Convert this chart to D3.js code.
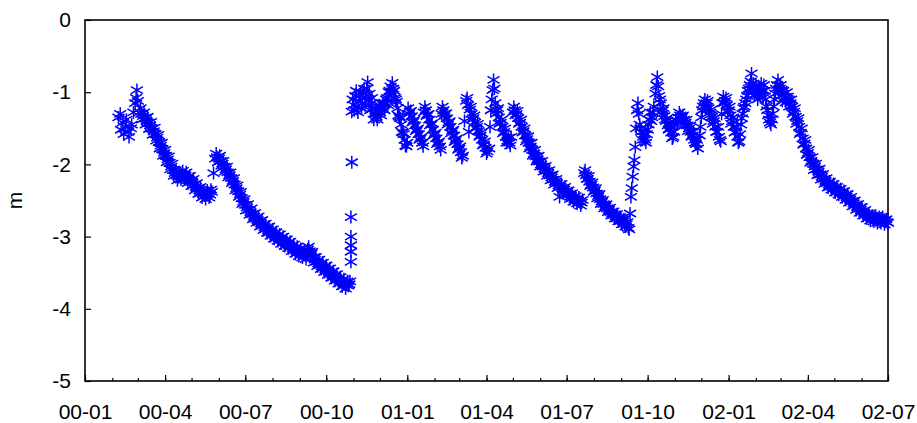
<!DOCTYPE html>
<html>
<head>
<meta charset="utf-8">
<script src="https://cdn.jsdelivr.net/npm/d3@7"></script>
<style>
  body { margin: 0; background: #fff; }
  text { font-family: "Liberation Sans", Arial, sans-serif; }
</style>
</head>
<body>
<svg id="chart"></svg>
<script>
// water level readings, [days since 2000-01-01, level in m]
const obs2000spring = [[38,-1.35],[40,-1.30],[41,-1.52],[43,-1.42],[44,-1.58],[46,-1.48],[47,-1.38],[49,-1.55],[50,-1.62],[52,-1.50],[53,-1.45],[55,-1.28],[57,-1.15],[58,-1.08],[59,-0.97],[60,-1.12],[62,-1.28],[64,-1.30],[66,-1.33],[68,-1.36],[70,-1.40],[72,-1.42],[74,-1.46],[76,-1.50],[78,-1.54],[80,-1.58],[82,-1.63],[84,-1.69],[86,-1.74],[88,-1.79],[90,-1.84],[92,-1.88],[94,-1.93],[96,-1.98],[98,-2.03],[100,-2.08],[102,-2.12],[104,-2.15],[106,-2.17],[108,-2.16],[110,-2.14],[112,-2.15],[114,-2.16],[116,-2.19],[118,-2.21],[120,-2.23],[122,-2.25],[124,-2.28],[126,-2.31],[128,-2.33],[130,-2.36],[132,-2.39],[134,-2.41],[136,-2.43],[138,-2.42],[140,-2.40],[142,-2.42],[144,-2.38],[146,-2.12]]
const obs2000springB = [[63,-1.22],[65,-1.38],[67,-1.28],[69,-1.45],[71,-1.34],[73,-1.51],[75,-1.41],[77,-1.59],[79,-1.49],[81,-1.67],[83,-1.59],[85,-1.78],[87,-1.70],[89,-1.88],[91,-1.80],[93,-1.97],[95,-1.89],[97,-2.07],[99,-1.99],[101,-2.16],[103,-2.08],[105,-2.22],[107,-2.11],[109,-2.21],[111,-2.09],[113,-2.21],[115,-2.11],[117,-2.26],[119,-2.16],[121,-2.30],[123,-2.20],[125,-2.36],[127,-2.26],[129,-2.41],[131,-2.31],[133,-2.46],[135,-2.36],[137,-2.48],[139,-2.36],[141,-2.46],[143,-2.35]]

const obs2000summer = [[148,-1.92],[150,-1.90],[152,-1.92],[154,-1.95],[156,-1.99],[158,-2.03],[160,-2.07],[162,-2.11],[164,-2.15],[166,-2.19],[168,-2.23],[170,-2.28],[172,-2.33],[174,-2.37],[176,-2.42],[178,-2.47],[180,-2.52],[182,-2.56],[184,-2.60],[186,-2.63],[188,-2.66],[190,-2.69],[192,-2.72],[194,-2.75],[196,-2.77],[198,-2.80],[200,-2.82],[202,-2.84],[204,-2.87],[206,-2.89],[208,-2.91],[210,-2.93],[212,-2.95],[214,-2.97],[216,-2.99],[218,-3.00],[220,-3.02],[222,-3.04],[224,-3.05],[226,-3.07],[228,-3.09],[230,-3.10],[232,-3.12],[234,-3.14],[236,-3.16],[238,-3.18],[240,-3.19],[242,-3.21],[244,-3.22],[246,-3.23],[248,-3.25],[250,-3.26],[252,-3.22],[253,-3.18],[255,-3.20],[257,-3.24],[259,-3.29],[261,-3.32],[263,-3.35],[265,-3.37],[267,-3.39],[269,-3.41],[271,-3.43],[273,-3.45],[275,-3.47],[277,-3.49],[279,-3.51],[281,-3.53],[283,-3.55],[285,-3.57],[287,-3.59],[289,-3.61],[291,-3.62],[293,-3.64],[295,-3.66],[297,-3.67],[299,-3.68],[300,-3.66],[301,-3.62]]
const obs2000summerB = [[149,-1.85],[151,-1.97],[153,-1.88],[155,-2.02],[157,-1.95],[159,-2.10],[161,-2.03],[163,-2.18],[165,-2.11],[167,-2.26],[169,-2.19],[171,-2.36],[173,-2.29],[175,-2.45],[177,-2.38],[179,-2.55],[181,-2.48],[183,-2.64],[185,-2.55],[187,-2.70],[189,-2.61],[191,-2.76],[193,-2.67],[195,-2.81],[197,-2.72],[199,-2.86],[201,-2.77],[203,-2.91],[205,-2.82],[207,-2.95],[209,-2.86],[211,-2.99],[213,-2.90],[215,-3.03],[217,-2.94],[219,-3.06],[221,-2.97],[223,-3.10],[225,-3.00],[227,-3.13],[229,-3.04],[231,-3.16],[233,-3.07],[235,-3.20],[237,-3.11],[239,-3.24],[241,-3.14],[243,-3.27],[245,-3.17],[247,-3.29],[249,-3.20],[251,-3.31],[254,-3.14],[256,-3.27],[258,-3.21],[260,-3.36],[262,-3.28],[264,-3.41],[266,-3.32],[268,-3.45],[270,-3.36],[272,-3.49],[274,-3.40],[276,-3.53],[278,-3.44],[280,-3.57],[282,-3.48],[284,-3.61],[286,-3.52],[288,-3.65],[290,-3.56],[292,-3.69],[294,-3.59],[296,-3.72],[298,-3.62]]

const obs2000recharge = [[302,-3.35],[302,-3.21],[302,-3.12],[302,-3.00],[302,-2.73],[303,-1.97],[303,-1.27]]

const obs2001winter = [[304,-1.10],[305,-1.18],[307,-1.05],[309,-1.20],[311,-1.12],[313,-1.00],[315,-1.15],[317,-0.95],[319,-1.08],[321,-0.86],[323,-1.02],[325,-1.15],[327,-1.22],[329,-1.30],[331,-1.34],[333,-1.25],[335,-1.28],[337,-1.22],[339,-1.18],[341,-1.15],[343,-1.08],[345,-1.00],[347,-0.92],[349,-0.87],[351,-0.98],[353,-1.10],[355,-1.22],[357,-1.34],[359,-1.45],[361,-1.56],[363,-1.66],[365,-1.75],[367,-1.22],[369,-1.27],[371,-1.33],[373,-1.40],[375,-1.46],[377,-1.52],[379,-1.58],[381,-1.64],[383,-1.70],[385,-1.28],[387,-1.25],[389,-1.31],[391,-1.38],[393,-1.45],[395,-1.52],[397,-1.58],[399,-1.64],[401,-1.70],[403,-1.75],[405,-1.30],[407,-1.25],[409,-1.30],[411,-1.36],[413,-1.42],[415,-1.48],[417,-1.54],[419,-1.60],[421,-1.66],[423,-1.72],[425,-1.78],[427,-1.83],[429,-1.88],[431,-1.40],[433,-1.12],[435,-1.18],[436,-1.55],[437,-1.24],[439,-1.30],[441,-1.36],[443,-1.42],[445,-1.48],[447,-1.54],[449,-1.60],[451,-1.66],[453,-1.72],[455,-1.77],[457,-1.82],[459,-1.78],[460,-1.48],[461,-1.25],[462,-1.10],[463,-0.97],[464,-0.83],[466,-1.15],[468,-1.25],[470,-1.35],[472,-1.42],[474,-1.48],[476,-1.55],[478,-1.62],[480,-1.67],[482,-1.70],[484,-1.62],[486,-1.28]]
const obs2001winterB = [[306,-1.25],[308,-0.98],[310,-1.28],[312,-1.05],[314,-1.22],[316,-1.02],[318,-1.18],[320,-0.95],[322,-1.12],[324,-1.25],[326,-1.08],[328,-1.38],[330,-1.22],[332,-1.38],[334,-1.18],[336,-1.32],[338,-1.15],[340,-1.25],[342,-1.10],[344,-1.18],[346,-0.98],[348,-1.02],[350,-0.95],[352,-1.08],[354,-1.13],[356,-1.32],[358,-1.36],[360,-1.55],[362,-1.58],[364,-1.74],[366,-1.70],[368,-1.30],[370,-1.26],[372,-1.42],[374,-1.38],[376,-1.54],[378,-1.50],[380,-1.66],[382,-1.62],[384,-1.75],[386,-1.20],[388,-1.33],[390,-1.30],[392,-1.46],[394,-1.43],[396,-1.60],[398,-1.56],[400,-1.72],[402,-1.68],[404,-1.80],[406,-1.20],[408,-1.33],[410,-1.29],[412,-1.45],[414,-1.40],[416,-1.57],[418,-1.52],[420,-1.69],[422,-1.64],[424,-1.80],[426,-1.75],[428,-1.91],[434,-1.08],[438,-1.20],[440,-1.38],[442,-1.32],[444,-1.50],[446,-1.44],[448,-1.62],[450,-1.56],[452,-1.74],[454,-1.68],[456,-1.85],[465,-0.95],[467,-1.30],[469,-1.22],[471,-1.44],[473,-1.38],[475,-1.57],[477,-1.50],[479,-1.70],[481,-1.63],[483,-1.74]]

const obs2001summer = [[488,-1.25],[490,-1.30],[492,-1.36],[494,-1.42],[496,-1.48],[498,-1.54],[500,-1.60],[502,-1.65],[504,-1.70],[506,-1.75],[508,-1.80],[510,-1.85],[512,-1.89],[514,-1.93],[516,-1.96],[518,-2.00],[520,-2.03],[522,-2.06],[524,-2.09],[526,-2.12],[528,-2.15],[530,-2.18],[532,-2.21],[534,-2.24],[536,-2.26],[538,-2.29],[539,-2.45],[540,-2.31],[542,-2.33],[544,-2.35],[546,-2.37],[548,-2.40],[550,-2.42],[552,-2.44],[554,-2.46],[556,-2.48],[558,-2.49],[560,-2.50],[562,-2.52],[564,-2.53]]
const obs2001summerB = [[487,-1.20],[489,-1.32],[491,-1.26],[493,-1.44],[495,-1.38],[497,-1.56],[499,-1.50],[501,-1.68],[503,-1.61],[505,-1.78],[507,-1.70],[509,-1.88],[511,-1.80],[513,-1.96],[515,-1.88],[517,-2.03],[519,-1.95],[521,-2.10],[523,-2.02],[525,-2.16],[527,-2.08],[529,-2.22],[531,-2.14],[533,-2.28],[535,-2.20],[537,-2.33],[541,-2.27],[543,-2.39],[545,-2.31],[547,-2.43],[549,-2.36],[551,-2.48],[553,-2.40],[555,-2.52],[557,-2.44],[559,-2.54],[561,-2.46],[563,-2.57],[565,-2.49]]

const obs2001autumn = [[567,-2.12],[569,-2.15],[571,-2.20],[573,-2.24],[575,-2.28],[577,-2.32],[579,-2.36],[581,-2.40],[583,-2.44],[585,-2.48],[587,-2.52],[589,-2.55],[591,-2.58],[593,-2.61],[595,-2.63],[597,-2.66],[599,-2.68],[601,-2.70],[603,-2.72],[605,-2.74],[607,-2.76],[609,-2.78],[611,-2.79],[613,-2.81],[615,-2.83],[617,-2.88],[619,-2.68],[620,-2.45],[621,-2.33],[622,-2.17],[623,-2.03],[624,-1.94],[625,-1.76],[626,-1.50],[627,-1.25],[628,-1.15],[629,-1.30],[630,-1.45],[632,-1.55],[634,-1.62],[636,-1.66],[638,-1.58],[640,-1.45],[642,-1.28],[644,-1.35],[646,-1.20],[648,-1.02],[649,-0.90],[650,-0.79],[651,-0.92],[652,-1.05],[654,-1.15],[656,-1.25],[658,-1.33],[660,-1.40],[662,-1.46],[664,-1.50],[666,-1.56],[668,-1.62],[670,-1.45],[672,-1.40],[674,-1.35],[676,-1.32],[678,-1.34],[680,-1.38],[682,-1.42],[684,-1.46],[686,-1.50],[688,-1.55],[690,-1.60],[692,-1.66],[694,-1.72],[696,-1.78]]
const obs2001autumnB = [[568,-2.08],[570,-2.20],[572,-2.16],[574,-2.30],[576,-2.25],[578,-2.38],[580,-2.33],[582,-2.47],[584,-2.41],[586,-2.55],[588,-2.49],[590,-2.61],[592,-2.55],[594,-2.66],[596,-2.60],[598,-2.71],[600,-2.65],[602,-2.75],[604,-2.69],[606,-2.79],[608,-2.73],[610,-2.83],[612,-2.76],[614,-2.86],[616,-2.80],[618,-2.90],[631,-1.50],[633,-1.66],[635,-1.58],[637,-1.70],[639,-1.52],[641,-1.38],[643,-1.40],[645,-1.28],[653,-1.10],[655,-1.30],[657,-1.22],[659,-1.38],[661,-1.36],[663,-1.52],[665,-1.46],[667,-1.64],[669,-1.55],[671,-1.38],[673,-1.44],[675,-1.28],[677,-1.38],[679,-1.32],[681,-1.46],[683,-1.38],[685,-1.54],[687,-1.46],[689,-1.62],[691,-1.55],[693,-1.70],[695,-1.66]]

const obs2002 = [[698,-1.60],[700,-1.35],[702,-1.20],[704,-1.10],[706,-1.15],[708,-1.22],[710,-1.28],[712,-1.34],[714,-1.40],[716,-1.48],[718,-1.55],[720,-1.62],[722,-1.68],[723,-1.30],[725,-1.06],[727,-1.12],[729,-1.18],[731,-1.25],[733,-1.32],[735,-1.40],[737,-1.48],[739,-1.55],[741,-1.62],[743,-1.68],[745,-1.45],[747,-1.30],[749,-1.20],[751,-1.10],[753,-0.98],[755,-0.90],[757,-0.74],[759,-0.88],[761,-0.95],[763,-1.02],[765,-0.92],[767,-1.05],[769,-0.98],[771,-0.90],[773,-1.10],[775,-1.25],[777,-1.38],[779,-1.45],[781,-1.30],[783,-1.10],[785,-0.95],[787,-0.83],[789,-0.95],[791,-1.05],[793,-0.98],[795,-1.08],[797,-1.00],[799,-1.10],[801,-1.15],[803,-1.20],[805,-1.27],[807,-1.34],[809,-1.40],[811,-1.48],[813,-1.56],[815,-1.64],[817,-1.71],[819,-1.78],[821,-1.84],[823,-1.90],[825,-1.95],[827,-1.99],[829,-2.03],[831,-2.07],[833,-2.10],[835,-2.14],[837,-2.17],[839,-2.20],[841,-2.23],[843,-2.26],[845,-2.28],[847,-2.30],[849,-2.31],[851,-2.33],[853,-2.35],[855,-2.36],[857,-2.38],[859,-2.39],[861,-2.41],[863,-2.43],[865,-2.45],[867,-2.47],[869,-2.49],[871,-2.51],[873,-2.54],[875,-2.56],[877,-2.59],[879,-2.61],[881,-2.63],[883,-2.65],[885,-2.67],[887,-2.69],[889,-2.71],[891,-2.73],[893,-2.74],[895,-2.75],[897,-2.74],[899,-2.76],[901,-2.77],[903,-2.77],[905,-2.76],[907,-2.78],[909,-2.79],[911,-2.80]]
const obs2002B = [[699,-1.48],[701,-1.25],[703,-1.15],[705,-1.20],[707,-1.12],[709,-1.32],[711,-1.24],[713,-1.44],[715,-1.36],[717,-1.55],[719,-1.48],[721,-1.66],[724,-1.15],[726,-1.15],[728,-1.08],[730,-1.28],[732,-1.20],[734,-1.44],[736,-1.35],[738,-1.56],[740,-1.48],[742,-1.70],[744,-1.58],[746,-1.36],[748,-1.22],[750,-1.15],[752,-1.05],[754,-0.95],[756,-0.85],[758,-0.95],[760,-1.05],[762,-0.90],[764,-1.10],[766,-1.00],[768,-0.88],[770,-1.08],[772,-0.98],[774,-1.20],[776,-1.32],[778,-1.42],[780,-1.38],[782,-1.20],[784,-1.02],[786,-0.90],[788,-1.00],[790,-0.90],[792,-1.12],[794,-1.02],[796,-1.14],[798,-1.06],[800,-1.20],[802,-1.10],[804,-1.30],[806,-1.22],[808,-1.44],[810,-1.36],[812,-1.58],[814,-1.50],[816,-1.73],[818,-1.66],[820,-1.87],[822,-1.80],[824,-1.98],[826,-1.90],[828,-2.08],[830,-1.99],[832,-2.15],[834,-2.06],[836,-2.21],[838,-2.13],[840,-2.27],[842,-2.19],[844,-2.32],[846,-2.24],[848,-2.35],[850,-2.27],[852,-2.39],[854,-2.31],[856,-2.42],[858,-2.34],[860,-2.45],[862,-2.37],[864,-2.49],[866,-2.41],[868,-2.53],[870,-2.45],[872,-2.58],[874,-2.50],[876,-2.63],[878,-2.55],[880,-2.67],[882,-2.59],[884,-2.71],[886,-2.63],[888,-2.75],[890,-2.68],[892,-2.78],[894,-2.71],[896,-2.79],[898,-2.71],[900,-2.81],[902,-2.73],[904,-2.81],[906,-2.73],[908,-2.83],[910,-2.76],[912,-2.81]]

const quarterTicks = ['2000-01','2000-04','2000-07','2000-10','2001-01','2001-04','2001-07','2001-10','2002-01','2002-04','2002-07']
const levelTicks = [0, -1, -2, -3, -4, -5]
const yLabel = 'm'

const width = 917, height = 423
const plot = {left: 85, right: 888, top: 20, bottom: 381}
const font = '"Liberation Sans", Arial, sans-serif'

const origin = new Date(2000, 0, 1)
const parseMonth = d3.timeParse('%Y-%m')
const allObs = [].concat(
        obs2000spring, obs2000springB, obs2000summer, obs2000summerB, obs2000recharge,
        obs2001winter, obs2001winterB, obs2001summer, obs2001summerB,
        obs2001autumn, obs2001autumnB, obs2002, obs2002B)
    .map(d => ({date: d3.timeDay.offset(origin, d[0]), level: d[1]}))

const x = d3.scaleTime()
    .domain([parseMonth(quarterTicks[0]), parseMonth(quarterTicks[quarterTicks.length - 1])])
    .range([plot.left, plot.right])

const y = d3.scaleLinear()
    .domain([-5, 0])
    .range([plot.bottom, plot.top])

const svg = d3.select('#chart')
    .attr('width', width)
    .attr('height', height)

// monthly minor ticks
svg.append('g')
    .attr('transform', `translate(0,${plot.bottom})`)
    .call(d3.axisBottom(x).ticks(d3.timeMonth.every(1)).tickSize(-3).tickFormat(''))
    .call(g => g.select('.domain').remove())
    .selectAll('line').attr('stroke', '#000').attr('stroke-width', 1.2)

// quarterly major ticks with labels
svg.append('g')
    .attr('transform', `translate(0,${plot.bottom})`)
    .call(d3.axisBottom(x)
        .tickValues(quarterTicks.map(parseMonth))
        .tickSize(-6)
        .tickPadding(23)
        .tickFormat(d3.timeFormat('%y-%m')))
    .call(g => g.select('.domain').remove())
    .call(g => g.selectAll('line').attr('stroke', '#000').attr('stroke-width', 1.2))
    .call(g => g.selectAll('text').attr('font-size', 21).attr('fill', '#000').attr('font-family', font))

svg.append('g')
    .attr('transform', `translate(${plot.left},0)`)
    .call(d3.axisLeft(y)
        .tickValues(levelTicks)
        .tickSize(-6)
        .tickPadding(14)
        .tickFormat(d => String(d)))
    .call(g => g.select('.domain').remove())
    .call(g => g.selectAll('line').attr('stroke', '#000').attr('stroke-width', 1.2))
    .call(g => g.selectAll('text').attr('font-size', 21).attr('fill', '#000').attr('font-family', font))

svg.append('rect')
    .attr('x', plot.left)
    .attr('y', plot.top)
    .attr('width', plot.right - plot.left)
    .attr('height', plot.bottom - plot.top)
    .attr('fill', 'none')
    .attr('stroke', '#000')
    .attr('stroke-width', 1.6)

svg.append('text')
    .attr('transform', `translate(15,${(plot.top + plot.bottom) / 2}) rotate(-90)`)
    .attr('text-anchor', 'middle')
    .attr('dy', '0.35em')
    .attr('font-size', 21)
    .text(yLabel)

// asterisk marker
const star = 'M0,-6.5V6.5M-6,-3.5L6,3.5M-6,3.5L6,-3.5'

svg.append('g')
    .selectAll('path')
    .data(allObs)
    .join('path')
    .attr('d', star)
    .attr('transform', d => `translate(${x(d.date)},${y(d.level)})`)
    .attr('fill', 'none')
    .attr('stroke', '#0000ff')
    .attr('stroke-width', 1.5)
</script>
</body>
</html>
